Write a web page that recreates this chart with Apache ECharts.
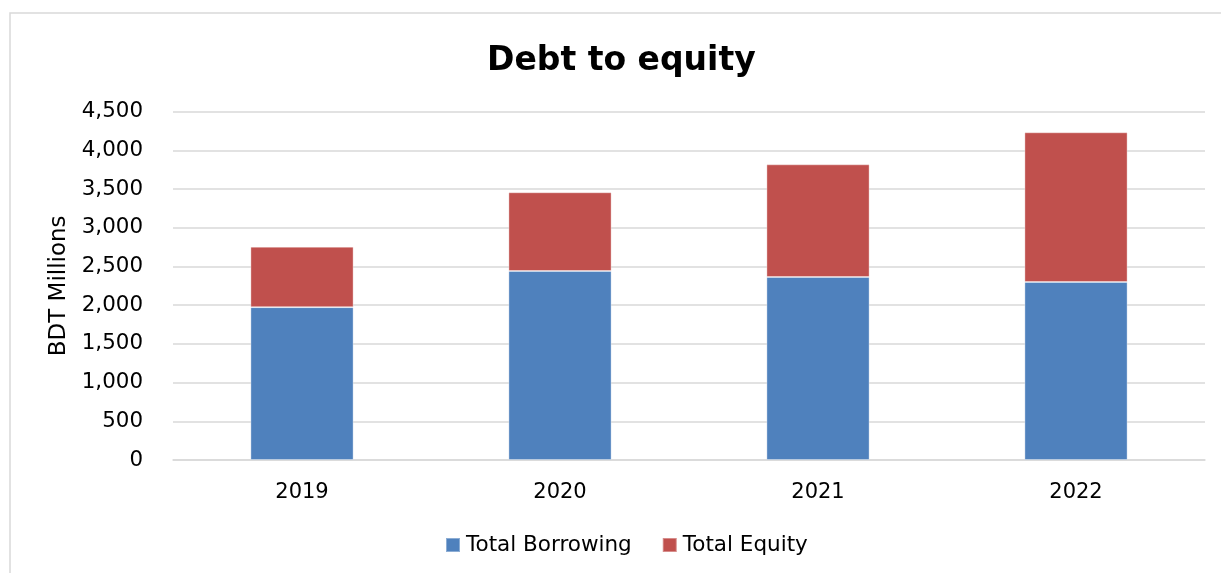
<!DOCTYPE html>
<html>
<head>
<meta charset="utf-8">
<script src="https://cdn.jsdelivr.net/npm/echarts@6/dist/echarts.min.js"></script>
<style>
html,body{margin:0;padding:0;background:#fff;}
#c{width:1221px;height:573px;}
</style>
</head>
<body>
<div id="c"></div>
<script>
const categories = ['2019', '2020', '2021', '2022'];
const totalBorrowing = [1975, 2442, 2364, 2300];
const totalEquity = [781, 1017, 1456, 1934];
const yTicks = [0, 500, 1000, 1500, 2000, 2500, 3000, 3500, 4000, 4500];

const chart = echarts.init(document.getElementById('c'), null, {renderer: 'canvas'});
const font = 'DejaVu Sans';
chart.setOption({
  backgroundColor: '#fff',
  animation: false,
  title: {
    text: 'Debt to equity',
    left: 487,
    top: 45,
    padding: 0,
    textStyle: {fontFamily: font, fontWeight: 'bold', fontSize: 33, color: '#000'}
  },
  graphic: [{
    type: 'polyline',
    shape: {points: [[10, 573], [10, 13], [1221, 13]]},
    style: {stroke: '#d9d9d9', lineWidth: 1.5, fill: null}
  }],
  legend: {
    data: ['Total Borrowing', 'Total Equity'],
    bottom: 12,
    left: 440,
    itemWidth: 14,
    itemHeight: 14,
    itemGap: 30,
    icon: 'rect',
    textStyle: {fontFamily: font, fontSize: 21.5, color: '#000', padding: [0, 0, 0, 1]}
  },
  grid: {left: 173, right: 16, top: 111.7, bottom: 113},
  xAxis: {
    type: 'category',
    data: categories,
    axisLine: {lineStyle: {color: '#d9d9d9', width: 1.5}},
    axisTick: {show: false},
    axisLabel: {fontFamily: font, fontSize: 21, color: '#000', margin: 22}
  },
  yAxis: {
    type: 'value',
    min: 0,
    max: 4500,
    interval: 500,
    name: 'BDT Millions',
    nameLocation: 'middle',
    nameGap: 101,
    nameTextStyle: {fontFamily: font, fontSize: 23, color: '#000'},
    axisLine: {show: false},
    axisTick: {show: false},
    splitLine: {lineStyle: {color: '#d9d9d9', width: 1.5}},
    axisLabel: {
      fontFamily: font, fontSize: 21.4, color: '#000', margin: 30,
      formatter: v => yTicks.includes(v) ? v.toLocaleString('en-US') : ''
    }
  },
  series: [
    {
      name: 'Total Borrowing', type: 'bar', stack: 'total', data: totalBorrowing,
      barWidth: '40%',
      itemStyle: {color: '#4F81BD', borderColor: 'rgba(255,255,255,0.35)', borderWidth: 1}
    },
    {
      name: 'Total Equity', type: 'bar', stack: 'total', data: totalEquity,
      barWidth: '40%',
      itemStyle: {color: '#C0504D', borderColor: 'rgba(255,255,255,0.35)', borderWidth: 1}
    }
  ]
});
</script>
</body>
</html>
